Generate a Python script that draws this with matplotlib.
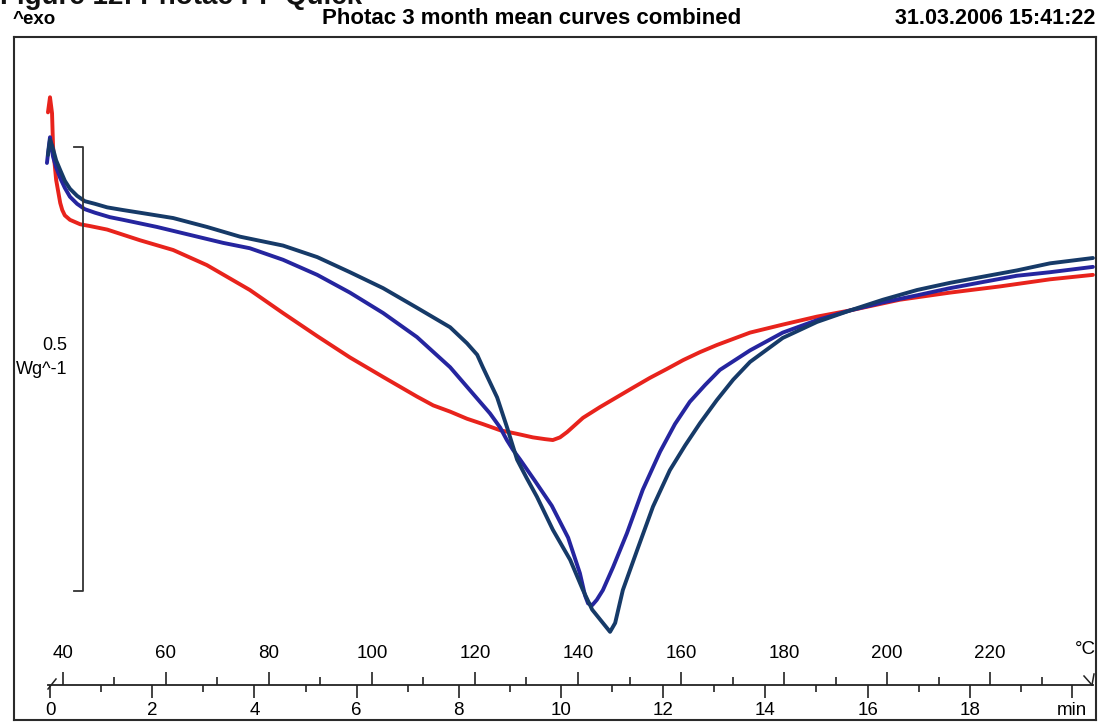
import matplotlib
matplotlib.use("Agg")
import matplotlib.pyplot as plt
from matplotlib.lines import Line2D
from matplotlib.ticker import FixedLocator, FixedFormatter

plt.rcParams['font.family'] = ['Liberation Sans', 'DejaVu Sans']

# ---------------- data (time in min, heat flow in W/g, relative) ----------------
red_t = [-0.04, 0.00, 0.04, 0.06, 0.12, 0.20, 0.24, 0.29, 0.39, 0.47, 0.59, 0.78, 1.12, 1.76,
         2.41, 3.07, 3.58, 3.91, 4.56, 5.23, 5.87, 6.52, 6.85, 7.18, 7.50, 7.83, 8.16, 8.47,
         8.81, 9.14, 9.45, 9.69, 9.84, 9.98, 10.12, 10.43, 10.76, 11.41, 11.74, 12.07, 12.39,
         12.72, 13.05, 13.70, 14.34, 15.01, 15.66, 16.63, 17.61, 18.59, 19.57, 20.41]
red_hf = [0.539, 0.556, 0.538, 0.500, 0.463, 0.437, 0.429, 0.423, 0.418, 0.416, 0.413, 0.411,
          0.407, 0.395, 0.384, 0.367, 0.350, 0.339, 0.313, 0.287, 0.263, 0.241, 0.230, 0.219,
          0.209, 0.202, 0.194, 0.188, 0.181, 0.177, 0.173, 0.171, 0.170, 0.173, 0.179, 0.195,
          0.207, 0.229, 0.240, 0.250, 0.260, 0.269, 0.277, 0.291, 0.300, 0.309, 0.316, 0.328,
          0.336, 0.343, 0.351, 0.356]

blue_t = [-0.06, -0.02, 0.00, 0.06, 0.12, 0.20, 0.29, 0.39, 0.53, 0.68, 0.88, 1.17, 1.43, 2.09,
          2.74, 3.39, 3.91, 4.56, 5.23, 5.87, 6.52, 7.18, 7.83, 8.22, 8.61, 8.81, 8.94, 9.06,
          9.20, 9.49, 9.82, 10.14, 10.37, 10.47, 10.53, 10.61, 10.70, 10.82, 11.02, 11.29,
          11.60, 11.94, 12.23, 12.52, 12.82, 13.11, 13.70, 14.34, 15.01, 15.66, 16.30, 16.97,
          17.61, 18.26, 18.92, 19.57, 20.41]
blue_hf = [0.482, 0.502, 0.511, 0.489, 0.477, 0.465, 0.454, 0.444, 0.436, 0.430, 0.426, 0.421,
           0.418, 0.410, 0.401, 0.392, 0.386, 0.373, 0.356, 0.336, 0.313, 0.286, 0.252, 0.226,
           0.200, 0.184, 0.170, 0.159, 0.148, 0.124, 0.096, 0.060, 0.020, -0.005, -0.014,
           -0.016, -0.010, 0.001, 0.027, 0.065, 0.114, 0.157, 0.188, 0.213, 0.232, 0.249, 0.271,
           0.291, 0.305, 0.316, 0.325, 0.333, 0.341, 0.348, 0.355, 0.359, 0.365]

navy_t = [-0.04, 0.00, 0.04, 0.12, 0.20, 0.29, 0.39, 0.53, 0.68, 0.88, 1.12, 1.43, 1.76, 2.41,
          3.07, 3.72, 4.56, 5.23, 5.87, 6.52, 7.18, 7.83, 8.16, 8.36, 8.47, 8.61, 8.75, 8.94,
          9.14, 9.33, 9.53, 9.84, 10.18, 10.43, 10.61, 10.82, 10.96, 11.06, 11.21, 11.49,
          11.80, 12.13, 12.43, 12.72, 13.05, 13.37, 13.70, 14.34, 15.01, 15.66, 16.30, 16.97,
          17.61, 18.26, 18.92, 19.57, 20.41]
navy_hf = [0.491, 0.508, 0.502, 0.485, 0.474, 0.462, 0.453, 0.445, 0.439, 0.436, 0.432, 0.429,
           0.426, 0.420, 0.410, 0.399, 0.389, 0.376, 0.359, 0.341, 0.319, 0.297, 0.279, 0.266,
           0.252, 0.235, 0.218, 0.185, 0.148, 0.127, 0.106, 0.069, 0.035, 0.001, -0.021,
           -0.036, -0.046, -0.036, 0.001, 0.046, 0.095, 0.136, 0.164, 0.189, 0.215, 0.238,
           0.258, 0.285, 0.303, 0.316, 0.328, 0.339, 0.347, 0.354, 0.361, 0.369, 0.375]

time_ticks = [0, 2, 4, 6, 8, 10, 12, 14, 16, 18, 20]
time_labels = ['0', '2', '4', '6', '8', '10', '12', '14', '16', '18', 'min']
time_minor = [1, 3, 5, 7, 9, 11, 13, 15, 17, 19]
temp_ticks = [40, 60, 80, 100, 120, 140, 160, 180, 200, 220]
temp_minor = [50, 70, 90, 110, 130, 150, 170, 190, 210, 230]
T_start = 37.5        # degC at t = 0
heating_rate = 9.92   # K/min
scale_bar = 0.5       # W/g

caption = 'Figure 12: Photac PP Quick'
title = 'Photac 3 month mean curves combined'
stamp = '31.03.2006 15:41:22'

# ---------------- layout helpers (pixel geometry of the 1100x723 canvas) ----------------
W, H = 1100, 723
def fx(px): return px / W
def fy(py): return 1 - py / H
PX_MIN, T0_PX = 51.1, 50.0
HF0_PX, PX_W = 591.0, 888.0
def px2t(px): return (px - T0_PX) / PX_MIN
def py2hf(py): return (HF0_PX - py) / PX_W

fig = plt.figure(figsize=(11, 7.23), dpi=100)
fig.patch.set_facecolor('white')

# framed plotting area
L, R, TOP, BOT = 14, 1096, 37, 720
ax = fig.add_axes([fx(L), fy(BOT), fx(R) - fx(L), fy(TOP) - fy(BOT)])
ax.set_xlim(px2t(L), px2t(R))
ax.set_ylim(py2hf(BOT), py2hf(TOP))
ax.set_xticks([]); ax.set_yticks([])
for s in ax.spines.values():
    s.set_linewidth(1.5)
    s.set_color('#2a2a2a')

kw = dict(lw=2.8, solid_capstyle='round', solid_joinstyle='round')
ax.plot(red_t, red_hf, color='#e8231c', **kw)
ax.plot(blue_t, blue_hf, color='#25259f', **kw)
ax.plot(navy_t, navy_hf, color='#163a68', **kw)

# scale bar
bx = px2t(83)
bw = 9 / PX_MIN
ax.plot([bx - bw, bx, bx, bx - bw], [scale_bar, scale_bar, 0, 0], color='#333333', lw=1.3)
ax.text(px2t(67), py2hf(345), f'{scale_bar}', ha='right', va='center', fontsize=13)
ax.text(px2t(67), py2hf(370), 'Wg^-1', ha='right', va='center', fontsize=13)

# axis line with time (below) and temperature (above) scales
AX_Y = 685
axa = fig.add_axes([fx(L), fy(AX_Y), fx(R) - fx(L), 1e-5])
axa.set_xlim(px2t(L), px2t(R))
axa.patch.set_visible(False)
for k in ('left', 'right', 'top'):
    axa.spines[k].set_visible(False)
axa.spines['bottom'].set_bounds(px2t(48), px2t(1093))
axa.spines['bottom'].set_linewidth(1.3)
axa.spines['bottom'].set_color('#222222')
axa.set_yticks([])
axa.xaxis.set_major_locator(FixedLocator(time_ticks))
axa.xaxis.set_major_formatter(FixedFormatter(time_labels))
axa.xaxis.set_minor_locator(FixedLocator(time_minor))
axa.tick_params(axis='x', which='major', direction='out', length=9.5, width=1.2,
                labelsize=13.5, pad=3, color='#222222')
axa.tick_params(axis='x', which='minor', direction='out', length=5, width=1.2, color='#222222')

def t2T(t): return T_start + heating_rate * t
axT = fig.add_axes([fx(L), fy(AX_Y), fx(R) - fx(L), 1e-5])
axT.set_xlim(t2T(px2t(L)), t2T(px2t(R)))
axT.patch.set_visible(False)
for s in axT.spines.values():
    s.set_visible(False)
axT.set_yticks([])
axT.xaxis.set_ticks_position('top')
axT.set_xticks(temp_ticks)
axT.set_xticklabels([str(v) for v in temp_ticks])
axT.xaxis.set_minor_locator(FixedLocator(temp_minor))
axT.tick_params(axis='x', which='major', direction='out', length=9.5, width=1.2,
                labelsize=13.5, pad=7, color='#222222')
axT.tick_params(axis='x', which='minor', direction='out', length=5.5, width=1.2, color='#222222')
for tk, val in zip(axT.xaxis.get_major_ticks(), temp_ticks):
    if val == 220:
        tk.tick1line.set_color('#3030c0')
        tk.tick2line.set_color('#3030c0')
fig.text(fx(1085), fy(650), '°C', ha='center', va='center', fontsize=13.5)

# small decorations at the ends of the axis line
for (x0, y0, x1, y1) in [(48, 689, 56, 679), (1084, 676, 1092, 685), (1094, 674, 1092, 685)]:
    fig.add_artist(Line2D([fx(x0), fx(x1)], [fy(y0), fy(y1)], transform=fig.transFigure,
                          color='#222222', lw=1.1))

# header texts
fig.text(fx(13), fy(19), '^exo', ha='left', va='center', fontsize=13.5, weight='bold')
fig.text(fx(532), fy(18), title, ha='center', va='center', fontsize=16, weight='bold')
fig.text(fx(1095), fy(18), stamp, ha='right', va='center', fontsize=15.5, weight='bold')
fig.text(fx(0), fy(4), caption, ha='left', va='baseline',
         fontsize=20, weight='bold', color='#111111')

fig.savefig('out.png', dpi=100, facecolor='white')
